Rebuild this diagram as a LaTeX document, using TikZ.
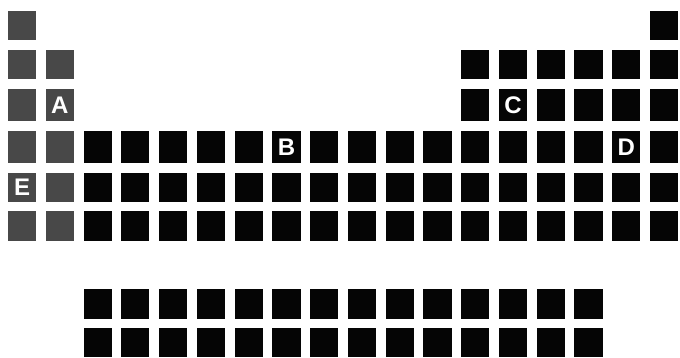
\documentclass[tikz,border=0pt]{standalone}
\usepackage{fontspec}
\setmainfont{Liberation Sans}
\definecolor{cg}{RGB}{72,72,72}
\definecolor{ck}{RGB}{5,5,5}
\newcommand\cellbox[4]{%
  \pgfmathsetmacro\cx{8+(#1-1)*37.76}%
  \fill[#4] (\cx,#2) rectangle (\cx+28.2,#3);}
\newcommand\cellrow[4]{% cols, top, bottom, style
  \foreach \c in {#1} {\cellbox{\c}{#2}{#3}{#4}}}
\begin{document}
\begin{tikzpicture}[x=1pt,y=-1pt]
\tikzset{
  gcell/.style={fill=cg},
  kcell/.style={fill=ck},
  lab/.style={text=white,font=\bfseries\fontsize{24}{24}\selectfont,inner sep=0pt}
}
\useasboundingbox (0,0) rectangle (680,358);
% row 1
\cellrow{1}{11.3}{40}{gcell}
\cellrow{18}{11.3}{40}{kcell}
% row 2
\cellrow{1,2}{50}{79.3}{gcell}
\cellrow{13,...,18}{50}{79.3}{kcell}
% row 3
\cellrow{1,2}{88.7}{121.3}{gcell}
\cellrow{13,...,18}{88.7}{121.3}{kcell}
% row 4
\cellrow{1,2}{131.3}{162.7}{gcell}
\cellrow{3,...,18}{131.3}{162.7}{kcell}
% row 5
\cellrow{1,2}{172.7}{202}{gcell}
\cellrow{3,...,18}{172.7}{202}{kcell}
% row 6
\cellrow{1,2}{211.3}{240.7}{gcell}
\cellrow{3,...,18}{211.3}{240.7}{kcell}
% lanthanides / actinides
\cellrow{3,...,16}{289.3}{318.7}{kcell}
\cellrow{3,...,16}{328}{356.7}{kcell}
% labels
\node[lab] (A) at (8+1*37.76+14.1,105) {A};
\node[lab] (B) at (8+7*37.76+14.1,147) {B};
\node[lab] (C) at (8+13*37.76+14.1,105) {C};
\node[lab] (D) at (8+16*37.76+14.1,147) {D};
\node[lab] (E) at (8+0*37.76+14.1,187.3) {E};
\end{tikzpicture}
\end{document}
